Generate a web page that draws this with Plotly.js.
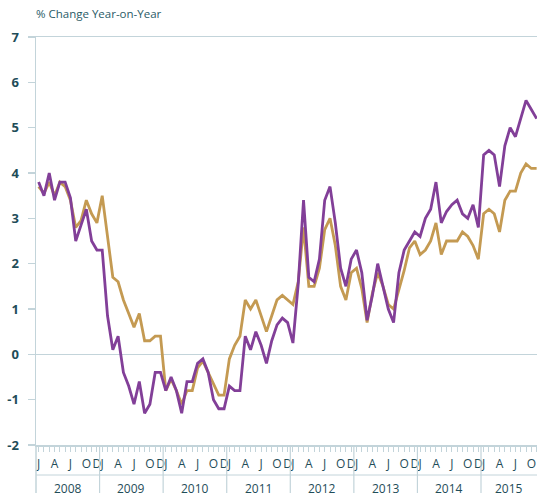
<!DOCTYPE html>
<html>
<head>
<meta charset="utf-8">
<script src="https://cdn.plot.ly/plotly-3.0.1.min.js"></script>
<style>
  html, body { margin: 0; padding: 0; background: #ffffff; }
  #chart { width: 537px; height: 497px; }
</style>
</head>
<body>
<div id="chart"></div>
<script>
// ---- data (monthly, Jan 2008 .. Nov 2015) ----
const years = [2008, 2009, 2010, 2011, 2012, 2013, 2014, 2015];
const monthLetters = ['J', 'F', 'M', 'A', 'M', 'J', 'J', 'A', 'S', 'O', 'N', 'D'];
const labelledMonths = ['J', 'A', 'J', 'O', 'D'];
const labelledMonthIdx = [0, 3, 6, 9, 11];

const seriesPurple = [
  3.8, 3.5, 4.0, 3.4, 3.8, 3.8, 3.45, 2.5, 2.85, 3.2, 2.5, 2.3,
  2.3, 0.85, 0.1, 0.4, -0.4, -0.7, -1.1, -0.6, -1.3, -1.1, -0.4, -0.4,
  -0.8, -0.5, -0.8, -1.3, -0.6, -0.6, -0.2, -0.1, -0.4, -1.0, -1.2, -1.2,
  -0.7, -0.8, -0.8, 0.4, 0.1, 0.5, 0.2, -0.2, 0.3, 0.65, 0.8, 0.7,
  0.25, 1.55, 3.4, 1.7, 1.6, 2.1, 3.4, 3.7, 2.9, 1.9, 1.5, 2.1,
  2.3, 1.8, 0.75, 1.3, 2.0, 1.5, 1.0, 0.7, 1.8, 2.3, 2.5, 2.7,
  2.6, 3.0, 3.2, 3.8, 2.9, 3.15, 3.3, 3.4, 3.1, 3.0, 3.3, 2.8,
  4.4, 4.5, 4.4, 3.7, 4.6, 5.0, 4.8, 5.2, 5.6, 5.4, 5.2
];
const seriesGold = [
  3.7, 3.55, 3.8, 3.5, 3.8, 3.7, 3.4, 2.8, 2.95, 3.4, 3.1, 2.9,
  3.5, 2.6, 1.7, 1.6, 1.2, 0.9, 0.6, 0.9, 0.3, 0.3, 0.4, 0.4,
  -0.8, -0.55, -0.8, -1.1, -0.8, -0.8, -0.3, -0.15, -0.4, -0.65, -0.9, -0.9,
  -0.1, 0.2, 0.4, 1.2, 1.0, 1.2, 0.85, 0.5, 0.85, 1.2, 1.3, 1.2,
  1.1, 1.6, 2.8, 1.5, 1.5, 1.9, 2.75, 3.0, 2.4, 1.5, 1.2, 1.8,
  1.9, 1.45, 0.7, 1.35, 1.8, 1.5, 1.1, 1.0, 1.4, 1.85, 2.35, 2.5,
  2.2, 2.3, 2.5, 2.9, 2.2, 2.5, 2.5, 2.5, 2.7, 2.6, 2.4, 2.1,
  3.1, 3.2, 3.1, 2.7, 3.4, 3.6, 3.6, 4.0, 4.2, 4.1, 4.1
];
const yTicks = [-2, -1, 0, 1, 2, 3, 4, 5, 6, 7];
const yTitle = '% Change Year-on-Year';

// ---- build ----
const monthIndex = seriesPurple.map((_, i) => i);
const allMonths = [];
const allMonthText = [];
years.forEach((yr, k) => {
  monthLetters.forEach((m, j) => {
    allMonths.push(k * 12 + j);
    const p = labelledMonthIdx.indexOf(j);
    allMonthText.push(p >= 0 ? labelledMonths[p] : '');
  });
});

const xEnd = 94.07;
const axisCol = '#c3d4da';
const textCol = '#1f4d59';
const FONT = '"Open Sans", "Noto Sans", sans-serif';

const traces = [
  { x: monthIndex, y: seriesGold, type: 'scatter', mode: 'lines',
    line: { color: '#c49a52', width: 2.8 }, hoverinfo: 'skip' },
  { x: monthIndex, y: seriesPurple, type: 'scatter', mode: 'lines',
    line: { color: '#823f98', width: 2.8 }, hoverinfo: 'skip' }
];

const plotH = 408;
const py = px => -px / plotH; // px below axis bottom -> paper y

const shapes = [
  { type: 'line', xref: 'paper', yref: 'paper', x0: 0, x1: 1, y0: py(30), y1: py(30),
    line: { color: axisCol, width: 1 } },
  { type: 'line', xref: 'paper', yref: 'paper', x0: 0, x1: 0, y0: 0, y1: py(48),
    line: { color: axisCol, width: 1.5 } }
];
const annotations = [
  { text: yTitle, xref: 'paper', yref: 'paper', x: -2 / 501, y: 1 + 23 / plotH,
    xanchor: 'left', yanchor: 'middle', showarrow: false,
    font: { family: FONT, size: 11.5, color: '#2a5b67' } }
];
years.forEach((yr, k) => {
  if (k > 0) {
    shapes.push({ type: 'line', xref: 'x', yref: 'paper', x0: k * 12 - 0.5, x1: k * 12 - 0.5,
      y0: 0, y1: py(48), line: { color: axisCol, width: 1.2 } });
  }
  const a = k * 12 - 0.5;
  const b = Math.min(k * 12 + 11.5, xEnd);
  annotations.push({ text: String(yr), xref: 'x', yref: 'paper', x: (a + b) / 2, y: py(43),
    xanchor: 'center', yanchor: 'middle', showarrow: false,
    font: { family: FONT, size: 12, color: textCol } });
});

const layout = {
  width: 537, height: 497,
  margin: { l: 36, r: 0, t: 37, b: 52, pad: 0 },
  paper_bgcolor: '#ffffff', plot_bgcolor: '#ffffff',
  showlegend: false,
  font: { family: FONT, color: textCol },
  xaxis: {
    range: [-0.5, xEnd], tickmode: 'array', tickvals: allMonths, ticktext: allMonthText,
    tickangle: 0,
    ticks: 'outside', ticklen: 5, tickcolor: axisCol, tickwidth: 1,
    showline: true, linecolor: axisCol, linewidth: 1.5, mirror: true,
    showgrid: false, zeroline: false, fixedrange: true,
    tickfont: { family: FONT, size: 12, color: textCol }, ticklabelstandoff: 2
  },
  yaxis: {
    range: [-2, 7], tickmode: 'array', tickvals: yTicks,
    ticktext: yTicks.map(v => '<b>' + v + '</b>'),
    ticks: 'outside', ticklen: 7, tickcolor: axisCol, tickwidth: 1.2,
    showline: true, linecolor: axisCol, linewidth: 1.5,
    showgrid: false, zeroline: true, zerolinecolor: axisCol, zerolinewidth: 1.2,
    fixedrange: true, ticklabelstandoff: 6,
    tickfont: { family: FONT, size: 13, color: textCol }
  },
  shapes: shapes,
  annotations: annotations
};

Plotly.newPlot('chart', traces, layout, { displayModeBar: false, staticPlot: true });
</script>
</body>
</html>
